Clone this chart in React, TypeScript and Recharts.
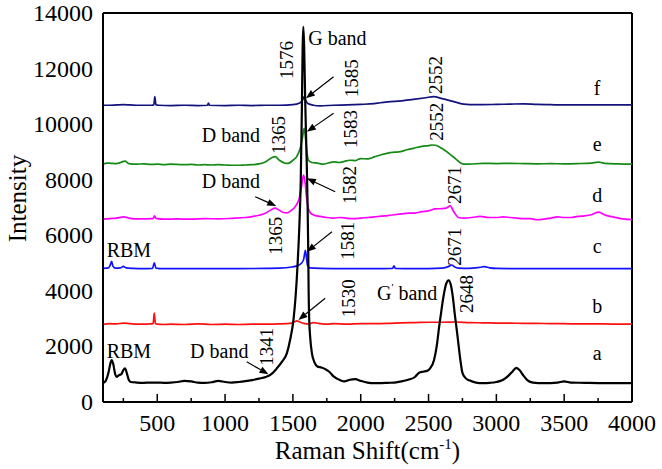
import React from 'react';
import { LineChart, Line, XAxis, YAxis, ReferenceLine, ReferenceDot, Label } from 'recharts';

const FONT =
  "'Liberation Serif', Tinos, 'Times New Roman', 'Nimbus Roman', 'Nimbus Roman No9 L', FreeSerif, 'DejaVu Serif', 'Noto Serif', Times, serif";

// ---- axis ticks ----
const xTicks = [250, 500, 750, 1000, 1250, 1500, 1750, 2000, 2250, 2500, 2750, 3000, 3250, 3500, 3750, 4000];
const yTicks = [0, 2000, 4000, 6000, 8000, 10000, 12000, 14000];

// ---- spectra: [Raman shift, intensity] ----
const seriesA: [number, number][] = [
  [100, 680], [120, 760], [140, 1050], [155, 1400], [164, 1510], [175, 1380], [190, 1000], [201, 900], [215, 960],
  [235, 1000], [250, 1150], [262, 1210], [275, 1050], [290, 800], [305, 720], [350, 700], [400, 690], [450, 700],
  [500, 700], [550, 690], [600, 700], [650, 720], [700, 760], [750, 740], [800, 700], [850, 690], [900, 710],
  [950, 760], [1000, 720], [1050, 700], [1100, 720], [1150, 750], [1200, 790], [1250, 840], [1300, 900],
  [1341, 1000], [1380, 1200], [1420, 1450], [1456, 1760], [1480, 2250], [1504, 2950], [1520, 3800], [1535, 5000],
  [1548, 6400], [1558, 8000], [1566, 10500], [1572, 12800], [1577, 13500], [1583, 12800], [1590, 11000],
  [1600, 9000], [1608, 7200], [1613, 5500], [1616, 4000], [1620, 3000], [1628, 2300], [1640, 1760], [1660, 1420],
  [1680, 1280], [1710, 1240], [1740, 1180], [1770, 1080], [1800, 920], [1850, 780], [1880, 740], [1920, 800],
  [1960, 820], [2000, 760], [2050, 700], [2100, 680], [2150, 680], [2200, 690], [2250, 700], [2300, 740],
  [2350, 800], [2400, 900], [2430, 1050], [2460, 1090], [2490, 1120], [2513, 1220], [2540, 1500], [2560, 2000],
  [2578, 2700], [2595, 3300], [2612, 3850], [2630, 4250], [2648, 4380], [2665, 4200], [2680, 3750], [2695, 3100],
  [2708, 2600], [2720, 2100], [2735, 1500], [2750, 1050], [2775, 850], [2800, 780], [2850, 700], [2900, 680],
  [2950, 690], [3000, 720], [3050, 800], [3090, 950], [3120, 1100], [3146, 1230], [3170, 1150], [3200, 950],
  [3230, 780], [3270, 700], [3350, 680], [3450, 700], [3500, 740], [3550, 700], [3650, 690], [3750, 680],
  [3850, 680], [4000, 680],
];

const seriesB: [number, number][] = [
  [100, 2790], [150, 2820], [200, 2810], [250, 2840], [300, 2820], [350, 2800], [400, 2800], [450, 2810],
  [470, 2830], [478, 3200], [486, 2830], [500, 2800], [550, 2790], [600, 2800], [700, 2790], [800, 2810],
  [900, 2790], [1000, 2800], [1100, 2790], [1200, 2800], [1300, 2800], [1400, 2810], [1480, 2830], [1510, 2880],
  [1530, 2920], [1550, 2880], [1580, 2830], [1620, 2810], [1650, 2860], [1690, 2830], [1750, 2800], [1800, 2820],
  [1900, 2800], [2000, 2820], [2100, 2820], [2200, 2830], [2300, 2850], [2400, 2860], [2500, 2870], [2600, 2870],
  [2700, 2880], [2800, 2860], [2900, 2850], [3000, 2840], [3100, 2840], [3200, 2830], [3300, 2830], [3400, 2820],
  [3500, 2820], [3600, 2810], [3700, 2810], [3800, 2810], [3900, 2800], [4000, 2800],
];

const seriesC: [number, number][] = [
  [100, 4810], [140, 4830], [155, 4950], [164, 5060], [172, 4900], [190, 4820], [230, 4830], [250, 4880],
  [270, 4830], [320, 4810], [400, 4800], [465, 4810], [478, 5010], [490, 4820], [550, 4800], [700, 4800],
  [900, 4800], [1100, 4800], [1300, 4810], [1400, 4820], [1480, 4850], [1530, 4900], [1565, 5000], [1580, 5150],
  [1592, 5460], [1600, 5200], [1608, 4920], [1625, 4830], [1700, 4810], [1900, 4800], [2100, 4800], [2235, 4810],
  [2245, 4900], [2255, 4810], [2400, 4800], [2600, 4820], [2650, 4880], [2671, 4930], [2690, 4870], [2720, 4820],
  [2800, 4810], [2880, 4850], [2910, 4870], [2950, 4830], [3000, 4810], [3200, 4800], [3500, 4800], [3800, 4800],
  [4000, 4800],
];

const seriesD: [number, number][] = [
  [100, 6580], [150, 6600], [200, 6620], [250, 6660], [300, 6610], [350, 6590], [400, 6590], [450, 6600],
  [470, 6610], [480, 6700], [490, 6610], [550, 6580], [650, 6590], [750, 6580], [850, 6600], [950, 6590],
  [1050, 6610], [1150, 6640], [1200, 6670], [1250, 6720], [1300, 6800], [1340, 6920], [1369, 6980], [1400, 6900],
  [1430, 6820], [1456, 6810], [1490, 6900], [1520, 7050], [1545, 7300], [1562, 7700], [1578, 8170], [1590, 7900],
  [1600, 7400], [1612, 7000], [1630, 6800], [1652, 6730], [1700, 6680], [1750, 6640], [1800, 6620], [1850, 6640],
  [1900, 6610], [1950, 6600], [2000, 6620], [2050, 6640], [2100, 6660], [2150, 6690], [2200, 6710], [2250, 6740],
  [2300, 6770], [2350, 6800], [2400, 6800], [2450, 6850], [2500, 6880], [2550, 6950], [2600, 6960], [2630, 6980],
  [2661, 7060], [2680, 6900], [2700, 6750], [2720, 6640], [2760, 6620], [2820, 6640], [2880, 6680], [2940, 6640],
  [3000, 6640], [3050, 6660], [3100, 6640], [3150, 6620], [3200, 6600], [3250, 6600], [3300, 6560], [3350, 6580],
  [3400, 6620], [3450, 6660], [3500, 6640], [3550, 6640], [3600, 6680], [3650, 6700], [3700, 6740], [3755, 6830],
  [3800, 6730], [3850, 6670], [3900, 6620], [3950, 6580], [4000, 6560],
];

const seriesE: [number, number][] = [
  [100, 8560], [130, 8600], [160, 8590], [200, 8580], [230, 8620], [262, 8670], [290, 8580], [350, 8560],
  [400, 8570], [450, 8550], [500, 8560], [550, 8540], [600, 8560], [650, 8550], [700, 8540], [750, 8550],
  [800, 8530], [850, 8540], [900, 8530], [950, 8540], [1000, 8530], [1050, 8520], [1100, 8520], [1150, 8530],
  [1200, 8540], [1250, 8570], [1300, 8650], [1340, 8780], [1369, 8830], [1400, 8700], [1440, 8600], [1465, 8590],
  [1500, 8700], [1530, 8850], [1555, 9150], [1570, 9500], [1583, 9850], [1593, 9500], [1603, 9000], [1615, 8700],
  [1640, 8620], [1680, 8600], [1726, 8560], [1760, 8600], [1800, 8640], [1840, 8620], [1880, 8660], [1920, 8700],
  [1960, 8690], [2000, 8760], [2050, 8750], [2100, 8820], [2150, 8900], [2200, 8960], [2250, 8990], [2292, 9010],
  [2340, 9080], [2388, 9130], [2450, 9200], [2500, 9230], [2526, 9250], [2552, 9240], [2600, 9120], [2650, 8950],
  [2700, 8750], [2740, 8590], [2760, 8560], [2800, 8560], [2900, 8590], [3000, 8580], [3100, 8590], [3200, 8580],
  [3300, 8570], [3400, 8580], [3500, 8570], [3600, 8580], [3700, 8600], [3755, 8630], [3800, 8590], [3900, 8570],
  [4000, 8560],
];

const seriesF: [number, number][] = [
  [100, 10680], [150, 10680], [200, 10690], [250, 10700], [300, 10690], [350, 10680], [400, 10680], [460, 10680],
  [475, 10700], [482, 10990], [490, 10700], [510, 10680], [600, 10670], [700, 10680], [800, 10670], [870, 10680],
  [877, 10760], [885, 10680], [1000, 10670], [1100, 10680], [1200, 10670], [1300, 10680], [1400, 10680],
  [1500, 10700], [1550, 10760], [1570, 10850], [1583, 10990], [1595, 10850], [1610, 10740], [1650, 10680],
  [1700, 10660], [1800, 10680], [1900, 10690], [2000, 10710], [2100, 10740], [2144, 10770], [2200, 10800],
  [2300, 10840], [2388, 10890], [2480, 10950], [2538, 10990], [2600, 10920], [2680, 10820], [2759, 10720],
  [2850, 10700], [3000, 10710], [3100, 10720], [3200, 10730], [3300, 10710], [3400, 10700], [3522, 10690],
  [3600, 10690], [3700, 10690], [3800, 10690], [3900, 10690], [4000, 10690],
];

// ---- annotations ----
const peakNumbers: { x: number; y: number; text: string }[] = [
  { x: 1456, y: 12307, text: '1576' },
  { x: 1935, y: 11648, text: '1585' },
  { x: 1923, y: 9824, text: '1583' },
  { x: 1391, y: 9608, text: '1365' },
  { x: 1915, y: 7808, text: '1582' },
  { x: 1373, y: 5981, text: '1365' },
  { x: 1904, y: 5801, text: '1581' },
  { x: 1910, y: 3731, text: '1530' },
  { x: 2778, y: 3886, text: '2648' },
  { x: 2688, y: 5589, text: '2671' },
  { x: 2689, y: 7808, text: '2671' },
  { x: 2556, y: 10087, text: '2552' },
  { x: 2554, y: 11767, text: '2552' },
  { x: 1305, y: 1990, text: '1341' },
];

const bandTexts: { x: number; y: number; text: string }[] = [
  { x: 1613, y: 12846, text: 'G band' },
  { x: 828, y: 9367, text: 'D band' },
  { x: 828, y: 7690, text: 'D band' },
  { x: 127, y: 5229, text: 'RBM' },
  { x: 127, y: 1573, text: 'RBM' },
  { x: 742, y: 1573, text: 'D band' },
];

const gPrimeText = { x: 2120, y: 3670, main: 'G', prime: "'", rest: ' band' };

const seriesLetters: { x: number; y: number; text: string }[] = [
  { x: 3743, y: 11047, text: 'f' },
  { x: 3743, y: 9045, text: 'e' },
  { x: 3743, y: 7204, text: 'd' },
  { x: 3743, y: 5345, text: 'c' },
  { x: 3743, y: 3191, text: 'b' },
  { x: 3743, y: 1511, text: 'a' },
];

const arrows: { x1: number; y1: number; x2: number; y2: number }[] = [
  { x1: 1800, y1: 11706, x2: 1596, y2: 10929 },
  { x1: 1800, y1: 10389, x2: 1603, y2: 9727 },
  { x1: 1812, y1: 7568, x2: 1603, y2: 8050 },
  { x1: 1222, y1: 7388, x2: 1377, y2: 7053 },
  { x1: 1788, y1: 6128, x2: 1603, y2: 5408 },
  { x1: 1738, y1: 3731, x2: 1541, y2: 2951 },
  { x1: 1160, y1: 1447, x2: 1320, y2: 997 },
];

const toPoints = (s: [number, number][]) => s.map(([x, y]) => ({ x, y }));

const series = [
  { name: 'f', data: seriesF, color: '#12127c', width: 1.7 },
  { name: 'e', data: seriesE, color: '#168a16', width: 1.7 },
  { name: 'd', data: seriesD, color: '#ff00ff', width: 1.7 },
  { name: 'c', data: seriesC, color: '#1212ff', width: 1.7 },
  { name: 'b', data: seriesB, color: '#ff1010', width: 1.7 },
  { name: 'a', data: seriesA, color: '#000000', width: 2.2 },
];

const txtStyle = (size: number): React.CSSProperties => ({ fontFamily: FONT, fontSize: size, fill: '#000' });

function XTick(props: any) {
  const { x, y, payload } = props;
  const v = payload.value as number;
  const major = v % 500 === 0;
  return (
    <g>
      <line x1={x} y1={y} x2={x} y2={y - (major ? 8 : 4)} stroke="#000" strokeWidth={1.5} />
      {major && (
        <text x={x} y={y + 29} textAnchor="middle" style={txtStyle(24)}>
          {v}
        </text>
      )}
    </g>
  );
}

function YTick(props: any) {
  const { x, y, payload } = props;
  return (
    <text x={x} y={y} dy={8} textAnchor="end" style={txtStyle(24)}>
      {payload.value}
    </text>
  );
}

const rotatedShape = (text: string) => (p: any) => (
  <text
    x={p.cx}
    y={p.cy}
    transform={`rotate(-90 ${p.cx} ${p.cy})`}
    textAnchor="middle"
    dominantBaseline="central"
    style={txtStyle(19)}
  >
    {text}
  </text>
);

const plainShape = (text: string, anchor: 'start' | 'middle') => (p: any) => (
  <text x={p.cx} y={p.cy} textAnchor={anchor} style={txtStyle(20)}>
    {text}
  </text>
);

const gPrimeShape = (p: any) => (
  <text x={p.cx} y={p.cy} textAnchor="start" style={txtStyle(20)}>
    {gPrimeText.main}
    <tspan dy={-9} style={{ fontSize: 11 }}>{gPrimeText.prime}</tspan>
    <tspan dy={9} style={{ fontSize: 20 }}>{gPrimeText.rest}</tspan>
  </text>
);

const arrowShape = (p: any) => {
  const { x1, y1, x2, y2 } = p;
  if (![x1, y1, x2, y2].every((v) => typeof v === 'number' && isFinite(v))) return <g />;
  const a = Math.atan2(y2 - y1, x2 - x1);
  const L = 9;
  const W = 3.5;
  const bx = x2 - L * Math.cos(a);
  const by = y2 - L * Math.sin(a);
  const pts = `${x2},${y2} ${bx - W * Math.sin(a)},${by + W * Math.cos(a)} ${bx + W * Math.sin(a)},${by - W * Math.cos(a)}`;
  return (
    <g>
      <line x1={x1} y1={y1} x2={bx} y2={by} stroke="#000" strokeWidth={1.2} />
      <polygon points={pts} fill="#000" />
    </g>
  );
};

const yTitle = (p: any) => {
  const vb = p.viewBox || { x: 0, y: 13, width: 103, height: 389 };
  const cx = vb.x + 17;
  const cy = vb.y + vb.height / 2 - 9;
  return (
    <text
      x={cx}
      y={cy}
      transform={`rotate(-90 ${cx} ${cy})`}
      textAnchor="middle"
      dominantBaseline="central"
      style={txtStyle(25)}
    >
      Intensity
    </text>
  );
};

const xTitle = (p: any) => {
  const vb = p.viewBox || { x: 103, y: 402, width: 529, height: 67 };
  const cx = vb.x + vb.width / 2;
  const cy = vb.y + 57;
  return (
    <text x={cx} y={cy} textAnchor="middle" style={txtStyle(25)}>
      Raman Shift(cm
      <tspan dy={-10} style={{ fontSize: 15 }}>-1</tspan>
      <tspan dy={10} style={{ fontSize: 25 }}>)</tspan>
    </text>
  );
};

export default function App() {
  return (
    <div
      style={{ position: 'absolute', left: 0, top: 0, width: 662, height: 469, background: '#fff', fontFamily: FONT }}
    >
      <LineChart width={662} height={469} margin={{ top: 13, right: 30, bottom: 0, left: 0 }}>
        <XAxis
          dataKey="x"
          type="number"
          domain={[100, 4000]}
          allowDataOverflow
          ticks={xTicks}
          interval={0}
          tickSize={0}
          tickMargin={0}
          tickLine={false}
          tick={<XTick />}
          height={67}
          axisLine={{ stroke: '#000', strokeWidth: 2 }}
        >
          <Label content={xTitle} />
        </XAxis>
        <YAxis
          type="number"
          domain={[0, 14000]}
          allowDataOverflow
          ticks={yTicks}
          interval={0}
          width={103}
          tickSize={0}
          tickMargin={10}
          tickLine={false}
          tick={<YTick />}
          axisLine={{ stroke: '#000', strokeWidth: 2 }}
        >
          <Label content={yTitle} />
        </YAxis>
        <ReferenceLine y={14000} stroke="#000" strokeWidth={2} ifOverflow="visible" />
        <ReferenceLine x={4000} stroke="#000" strokeWidth={2} ifOverflow="visible" />
        {series.map((s) => (
          <Line
            key={s.name}
            data={toPoints(s.data)}
            dataKey="y"
            type="monotone"
            dot={false}
            activeDot={false}
            stroke={s.color}
            strokeWidth={s.width}
            isAnimationActive={false}
          />
        ))}
        {arrows.map((a, i) => (
          <ReferenceLine
            key={`ar${i}`}
            segment={[{ x: a.x1, y: a.y1 }, { x: a.x2, y: a.y2 }]}
            shape={arrowShape}
            ifOverflow="visible"
          />
        ))}
        {peakNumbers.map((n, i) => (
          <ReferenceDot key={`pn${i}`} x={n.x} y={n.y} r={0} ifOverflow="visible" shape={rotatedShape(n.text)} />
        ))}
        {bandTexts.map((n, i) => (
          <ReferenceDot key={`bt${i}`} x={n.x} y={n.y} r={0} ifOverflow="visible" shape={plainShape(n.text, 'start')} />
        ))}
        <ReferenceDot x={gPrimeText.x} y={gPrimeText.y} r={0} ifOverflow="visible" shape={gPrimeShape} />
        {seriesLetters.map((n, i) => (
          <ReferenceDot key={`sl${i}`} x={n.x} y={n.y} r={0} ifOverflow="visible" shape={plainShape(n.text, 'middle')} />
        ))}
      </LineChart>
    </div>
  );
}
